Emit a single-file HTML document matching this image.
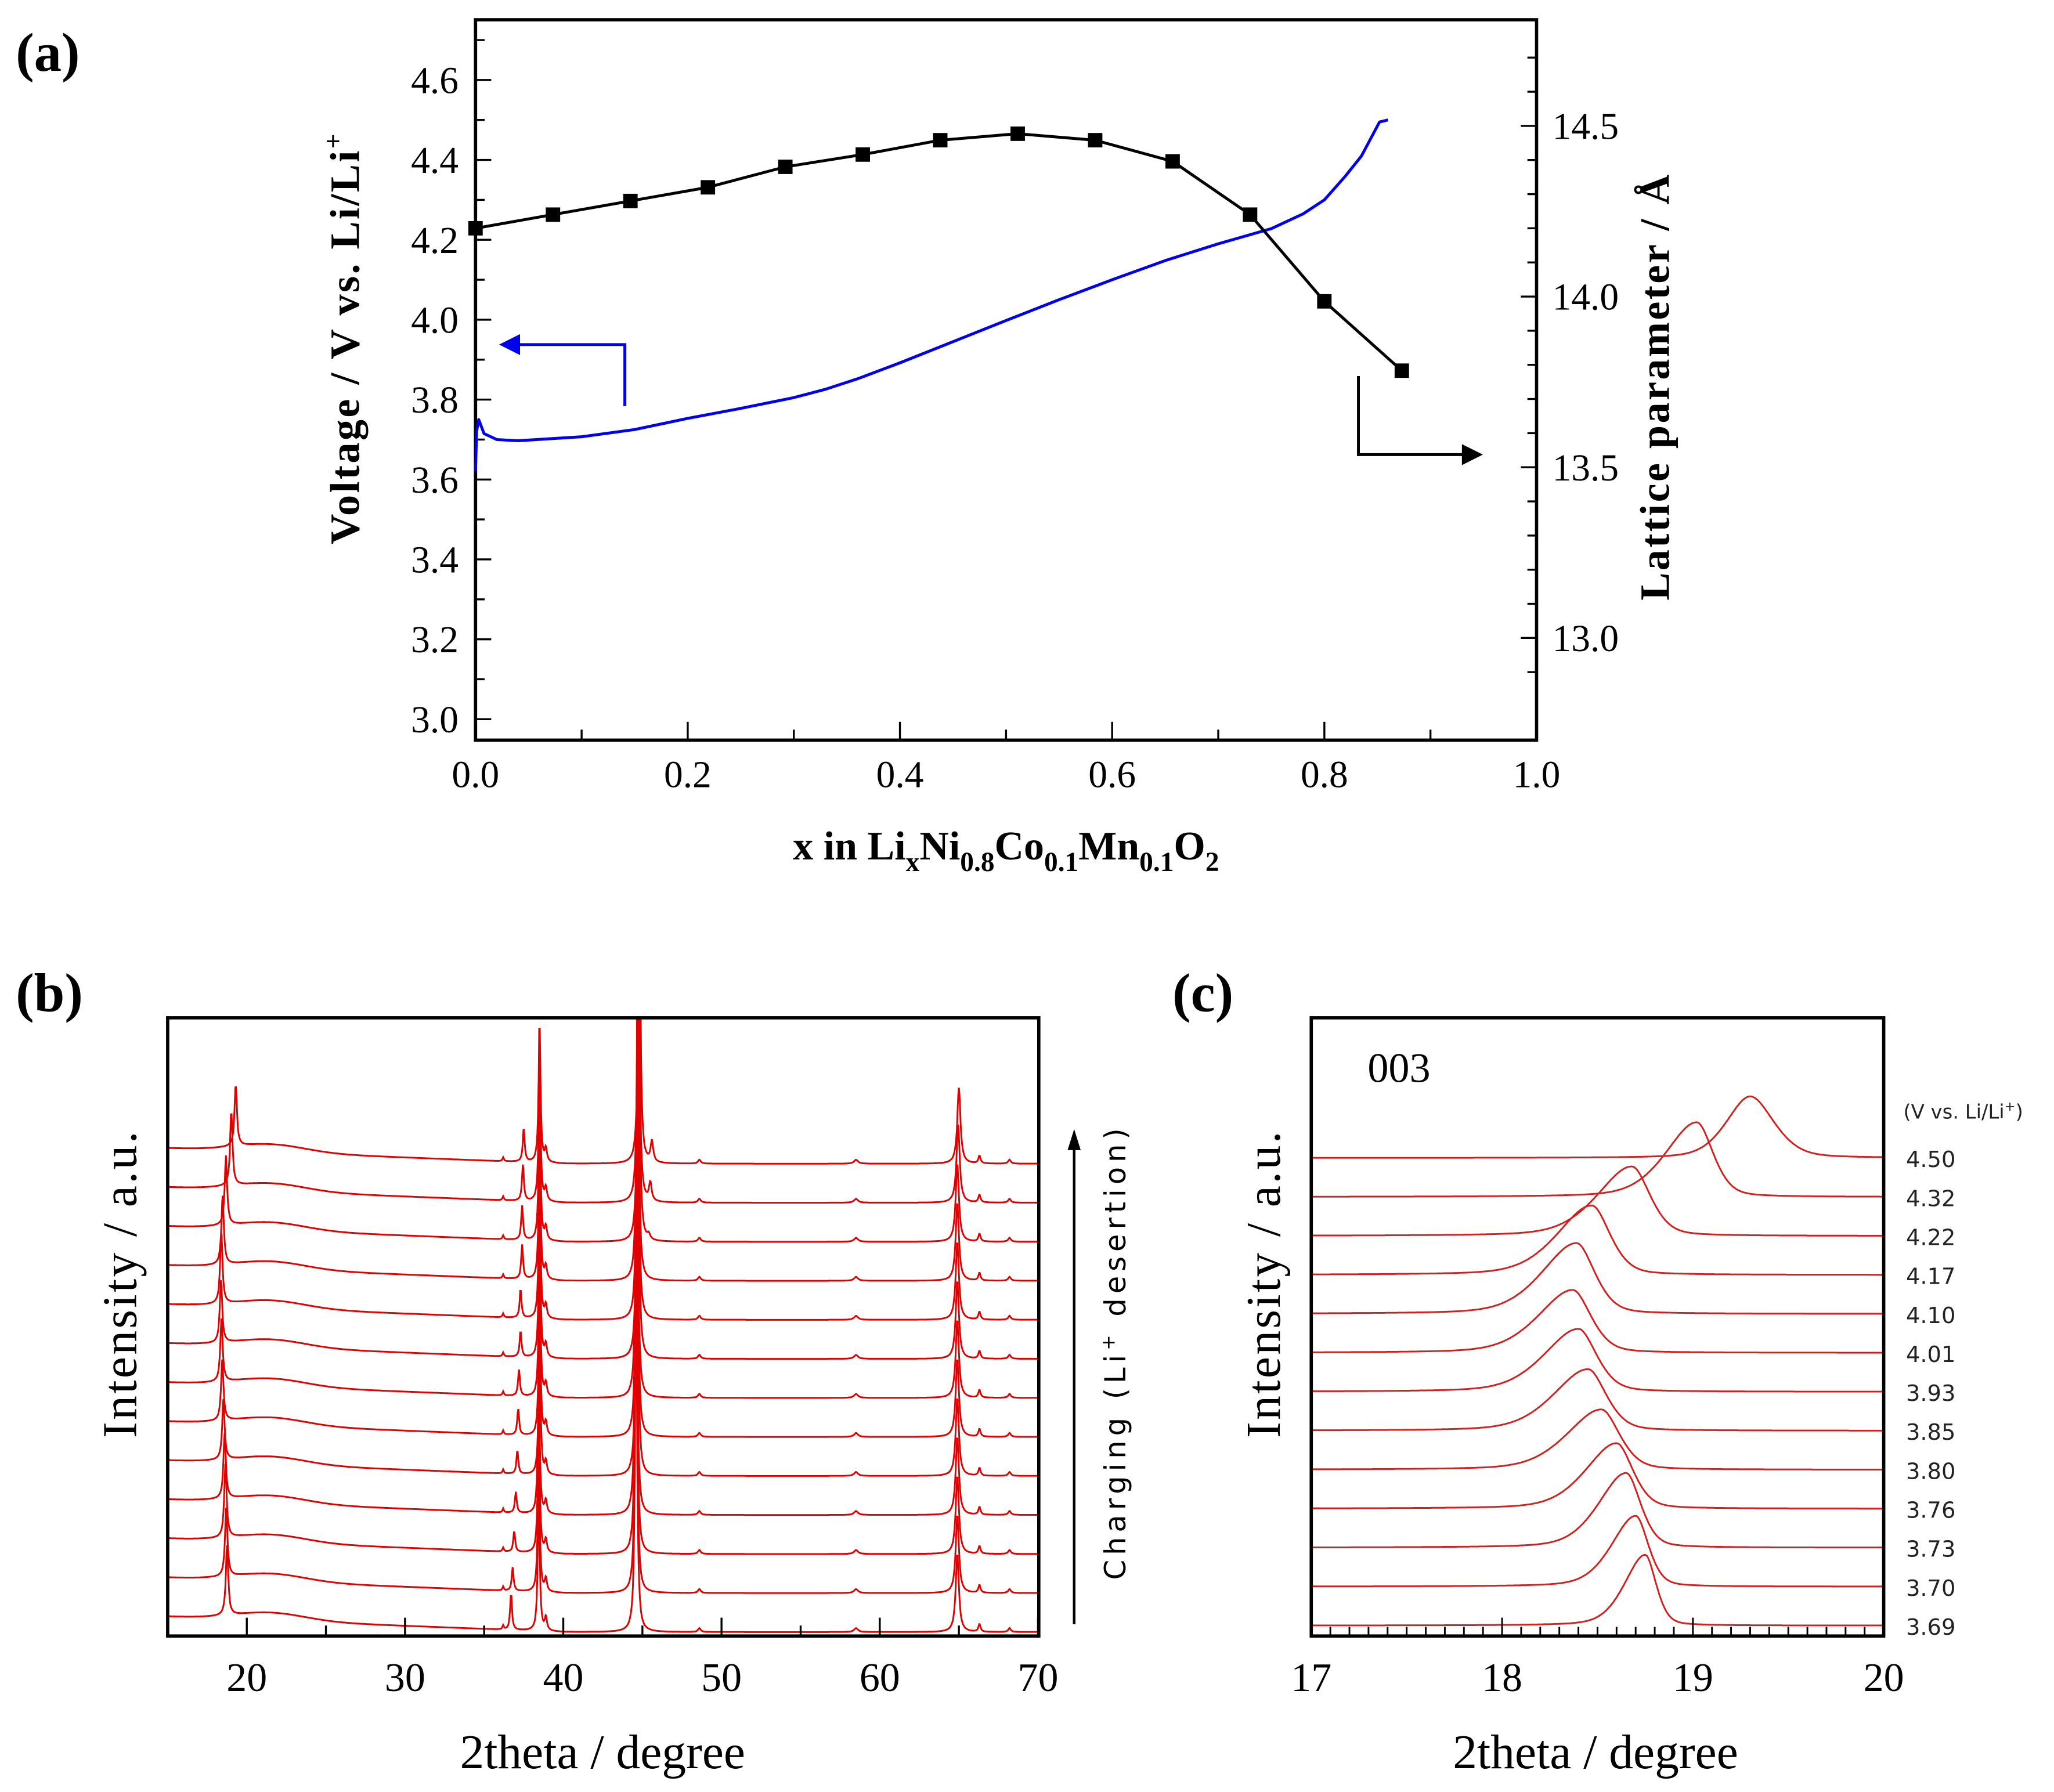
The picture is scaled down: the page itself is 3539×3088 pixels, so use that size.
<!DOCTYPE html>
<html><head><meta charset="utf-8"><style>
html,body{margin:0;padding:0;background:#fff;}
svg{display:block;}
.serif{font-family:"Liberation Serif",serif;}
.sans{font-family:"DejaVu Sans","Liberation Sans",sans-serif;}
</style></head><body>
<svg id="fig" width="3539" height="3088" viewBox="0 0 1568 1368" xmlns="http://www.w3.org/2000/svg">
<defs>
<clipPath id="clipB"><rect x="128" y="777" width="665" height="472"/></clipPath>
<clipPath id="clipC"><rect x="1001" y="777" width="437" height="472"/></clipPath>
</defs>
<g class="serif" font-weight="bold" font-size="42">
<text x="12" y="54">(a)</text>
<text x="12" y="772">(b)</text>
<text x="895" y="772">(c)</text>
</g>
<g id="pa"></g>
<g id="pb"></g>
<g id="pc"></g>
</svg>
<script>
// ---------- Panel (a) data ----------
const latticeX = [0,0.073,0.146,0.219,0.292,0.365,0.438,0.511,0.584,0.657,0.730,0.800,0.873];
const latticeC = [14.20,14.24,14.28,14.32,14.38,14.416,14.458,14.477,14.458,14.396,14.24,13.986,13.783];
const voltX = [0,0.001,0.003,0.008,0.02,0.04,0.1,0.15,0.2,0.25,0.3,0.33,0.36,0.4,0.45,0.5,0.55,0.6,0.65,0.7,0.75,0.78,0.8,0.82,0.835,0.845,0.852,0.86];
const voltV = [3.62,3.72,3.75,3.715,3.70,3.697,3.707,3.725,3.753,3.778,3.805,3.826,3.852,3.892,3.945,3.998,4.05,4.10,4.148,4.19,4.228,4.265,4.30,4.36,4.41,4.46,4.495,4.50];
const aXTicks = [0,0.2,0.4,0.6,0.8,1.0];
const aXLabels = ["0.0","0.2","0.4","0.6","0.8","1.0"];
const aYTicks = [3.0,3.2,3.4,3.6,3.8,4.0,4.2,4.4,4.6];
const aYLabels = ["3.0","3.2","3.4","3.6","3.8","4.0","4.2","4.4","4.6"];
const aRTicks = [13.0,13.5,14.0,14.5];
const aRLabels = ["13.0","13.5","14.0","14.5"];
// ---------- Panel (b)/(c) data ----------
const voltLabels = ["3.69","3.70","3.73","3.76","3.80","3.85","3.93","4.01","4.10","4.17","4.22","4.32","4.50"];
const peak003Pos = [18.75,18.70,18.65,18.60,18.52,18.45,18.40,18.37,18.39,18.47,18.68,19.02,19.30];
const peak003Height = [54,54,57,50,46,47,48,48,54,53,53,57,47];
const peak003Width = [0.06,0.07,0.08,0.09,0.10,0.10,0.10,0.10,0.10,0.10,0.10,0.09,0.13];
const pk104Pos = [38.45,38.45,38.45,38.45,38.5,38.5,38.5,38.5,38.5,38.5,38.5,38.5,38.5];
const pk104Height = [110,110,110,110,110,110,110,110,110,110,110,110,110];
const pk101Pos = [36.7,36.8,36.9,37.0,37.1,37.15,37.2,37.3,37.3,37.4,37.4,37.45,37.5];
const pk101Height = [28,18,16,16,18,20,20,20,22,26,26,28,26];
const pk006Pos = [44.6,44.6,44.6,44.6,44.65,44.65,44.65,44.7,44.7,44.7,44.75,44.75,44.8];
const pk110Pos = [64.9,64.9,64.9,64.9,64.9,64.9,64.9,64.9,64.9,64.9,64.9,64.95,65.0];
const pk110Height = [60,60,60,60,60,60,60,60,60,60,60,60,58];
const pkSat = [45.0,45.0,45.1,45.1,45.1,45.2,45.2,45.2,45.3,45.3,45.4,45.5,45.6];
const pkSatHeight = [0,0,0,0,0,0,0,0,0,0,4,14,16];
const bXTicks = [20,30,40,50,60,70];
const cXTicks = [17,18,19,20];

const NS="http://www.w3.org/2000/svg";
function mk(tag, attrs, parent, text){
  const e=document.createElementNS(NS,tag);
  for(const k in attrs) e.setAttribute(k,attrs[k]);
  if(text!==undefined) e.textContent=text;
  parent.appendChild(e); return e;
}
// ---- Panel a ----
const pa=document.getElementById('pa');
const ax=v=>363+(v-0)*810;
const ay=v=>549-(v-3.0)/0.2*61;
const ar=v=>487-(v-13.0)/0.5*130.33;
let el;
el=mk('rect',{x:363,y:15,width:810,height:550,fill:'none',stroke:'#000','stroke-width':2.5},pa);


for(let v=0;v<=1.0001;v+=0.1){
  const big=Math.round(v*10)%2===0;
  mk('line',{x1:ax(v),x2:ax(v),y1:565,y2:565-(big?14:8),stroke:'#000','stroke-width':1.5},pa);
}
for(let v=3.0;v<=4.75;v+=0.1){
  mk('line',{x1:363,x2:363+(Math.round(v*10)%2===0?12:7),y1:ay(v),y2:ay(v),stroke:'#000','stroke-width':1.5},pa);
}
for(let v=12.9;v<=14.7;v+=0.1){
  const big=Math.abs(v*2-Math.round(v*2))<0.01;
  mk('line',{x1:1173,x2:1173-(big?12:7),y1:ar(v),y2:ar(v),stroke:'#000','stroke-width':1.5},pa);
}
aXTicks.forEach((t,i)=>{
  el=mk('text',{x:ax(t),y:601,'text-anchor':'middle','font-size':29,class:'serif'},pa,aXLabels[i]);
  
  
});
aYTicks.forEach((t,i)=>{
  el=mk('text',{x:350,y:ay(t)+10,'text-anchor':'end','font-size':29,class:'serif'},pa,aYLabels[i]);
  
  
});
aRTicks.forEach((t,i)=>{
  el=mk('text',{x:1185,y:ar(t)+10,'font-size':29,class:'serif'},pa,aRLabels[i]);
  
  
});
el=mk('polyline',{points:voltX.map((x,i)=>ax(x)+','+ay(voltV[i])).join(' '),fill:'none',stroke:'#0000ee','stroke-width':2.2,'stroke-linejoin':'round'},pa);


el=mk('polyline',{points:latticeX.map((x,i)=>ax(x)+','+ar(latticeC[i])).join(' '),fill:'none',stroke:'#000','stroke-width':2.2},pa);


latticeX.forEach((x,i)=>{
  el=mk('rect',{x:ax(x)-5.5,y:ar(latticeC[i])-5.5,width:11,height:11,fill:'#000'},pa);
  
  
});
el=mk('path',{d:'M477,310 L477,263 L392,263',fill:'none',stroke:'#0000ee','stroke-width':2.2},pa);


mk('polygon',{points:'381,263 397,255 397,271',fill:'#0000ee'},pa);
el=mk('path',{d:'M1037,287 L1037,347 L1118,347',fill:'none',stroke:'#000','stroke-width':2.2},pa);


mk('polygon',{points:'1132,347 1116,339 1116,355',fill:'#000'},pa);
el=mk('text',{transform:'translate(274,258) rotate(-90)','text-anchor':'middle','font-size':32,'font-weight':'bold',class:'serif','letter-spacing':1.5},pa);
el.innerHTML='Voltage / V vs. Li/Li<tspan dy="-13" font-size="20">+</tspan>';


el=mk('text',{transform:'translate(1274,295) rotate(-90)','text-anchor':'middle','font-size':32,'font-weight':'bold',class:'serif','letter-spacing':1.5},pa,'Lattice parameter / Å');


el=mk('text',{x:768,y:656,'text-anchor':'middle','font-size':31,'font-weight':'bold',class:'serif'},pa);
el.innerHTML='x in Li<tspan dy="9" font-size="21">x</tspan><tspan dy="-9">Ni</tspan><tspan dy="9" font-size="21">0.8</tspan><tspan dy="-9">Co</tspan><tspan dy="9" font-size="21">0.1</tspan><tspan dy="-9">Mn</tspan><tspan dy="9" font-size="21">0.1</tspan><tspan dy="-9">O</tspan><tspan dy="9" font-size="21">2</tspan>';



// ---- Panel b ----
const pb=document.getElementById('pb');
const bx=v=>128+(v-15)*12.08;
function lor(x,c,w){const d=(x-c)/w;return 1/(1+d*d);}
function gau(x,c,w){const d=(x-c)/w;return Math.exp(-0.5*d*d);}
const gb=mk('g',{'clip-path':'url(#clipB)'},pb);
for(let i=0;i<13;i++){
  const base=1246-i*29.8;
  let pts=[];
  for(let t=15;t<=70;t+=0.04){
    let h=0;
    h+=Math.max(0,(40-t))/25*12;
    h+=6*gau(t,21.5,2.2);
    h+=peak003Height[i]*lor(t,peak003Pos[i],0.09);
    h+=pk101Height[i]*lor(t,pk101Pos[i],0.07);
    h+=3*lor(t,36.2,0.05);
    h+=pk104Height[i]*lor(t,pk104Pos[i],0.07);
    h+=10*lor(t,38.9,0.08);
    h+=260*lor(t,pk006Pos[i],0.08);
    h+=pkSatHeight[i]*lor(t,pkSat[i],0.1);
    h+=3*lor(t,48.6,0.1)+3*lor(t,58.5,0.15);
    h+=pk110Height[i]*lor(t,pk110Pos[i],0.12);
    h+=6*lor(t,66.3,0.08)+3*lor(t,68.2,0.1);
    pts.push(bx(t).toFixed(1)+','+(base-h).toFixed(1));
  }
  el=mk('polyline',{points:pts.join(' '),fill:'none',stroke:'#e00000','stroke-width':1.3},gb);
  
  
}
el=mk('rect',{x:128,y:777,width:665,height:472,fill:'none',stroke:'#000','stroke-width':2.5},pb);


for(let v=15;v<=70;v+=5){
  mk('line',{x1:bx(v),x2:bx(v),y1:1249,y2:1249-(v%10===0?14:8),stroke:'#000','stroke-width':1.5},pb);
}
bXTicks.forEach(t=>{
  el=mk('text',{x:bx(t),y:1291,'text-anchor':'middle','font-size':31,class:'serif'},pb,String(t));
  
  
});
el=mk('text',{x:460,y:1350,'text-anchor':'middle','font-size':37,class:'serif'},pb,'2theta / degree');


el=mk('text',{transform:'translate(104,980) rotate(-90)','text-anchor':'middle','font-size':37,class:'serif','letter-spacing':1.5},pb,'Intensity / a.u.');


el=mk('line',{x1:820,x2:820,y1:1240,y2:875,stroke:'#000','stroke-width':2},pb);


mk('polygon',{points:'820,862 815,878 825,878',fill:'#000'},pb);
el=mk('text',{transform:'translate(859,1032) rotate(-90)','text-anchor':'middle','font-size':22,class:'sans','letter-spacing':3.5},pb);
el.innerHTML='Charging (Li<tspan dy="-8" font-size="14">+</tspan><tspan dy="8"> desertion)</tspan>';



// ---- Panel c ----
const pc=document.getElementById('pc');
const cx=v=>1001+(v-17)*145.67;
const gc=mk('g',{'clip-path':'url(#clipC)'},pc);
for(let i=0;i<13;i++){
  const base=1241-i*29.75;
  let pts=[];
  for(let t=17;t<=20;t+=0.005){
    const w=peak003Width[i];
    const wl = i===12 ? w : w*1.9;
    const wr = w;
    const d=(t-peak003Pos[i])/(t<peak003Pos[i]?wl:wr);
    const h=peak003Height[i]*(0.6*Math.exp(-0.5*d*d)+0.4/(1+d*d));
    pts.push(cx(t).toFixed(1)+','+(base-h).toFixed(1));
  }
  el=mk('polyline',{points:pts.join(' '),fill:'none',stroke:'#d02020','stroke-width':1.3},gc);
  
  
  el=mk('text',{x:1455,y:base+7,'font-size':17,class:'sans',fill:'#222'},pc,voltLabels[i]);
  
  
}
el=mk('rect',{x:1001,y:777,width:437,height:472,fill:'none',stroke:'#000','stroke-width':2.5},pc);


for(let k=0;k<=30;k++){
  const v=17+k*0.1;
  mk('line',{x1:cx(v),x2:cx(v),y1:1249,y2:1249-(k%10===0?14:7),stroke:'#000','stroke-width':1.3},pc);
}
cXTicks.forEach(t=>{
  el=mk('text',{x:cx(t),y:1291,'text-anchor':'middle','font-size':31,class:'serif'},pc,String(t));
  
  
});
el=mk('text',{x:1218,y:1350,'text-anchor':'middle','font-size':37,class:'serif'},pc,'2theta / degree');


el=mk('text',{transform:'translate(977,980) rotate(-90)','text-anchor':'middle','font-size':37,class:'serif','letter-spacing':1.5},pc,'Intensity / a.u.');


el=mk('text',{x:1044,y:826,'font-size':32,class:'serif'},pc,'003');


el=mk('text',{x:1453,y:854,'font-size':15,class:'sans',fill:'#222'},pc);
el.innerHTML='(V vs. Li/Li<tspan dy="-6" font-size="10">+</tspan><tspan dy="6">)</tspan>';


</script>
</body></html>
